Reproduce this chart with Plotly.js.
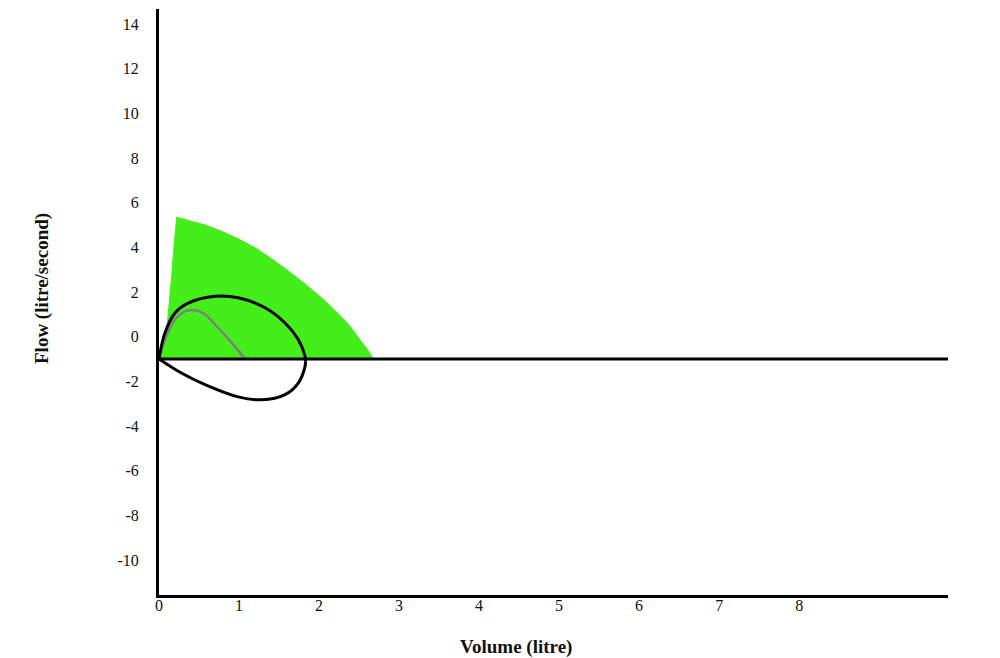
<!DOCTYPE html>
<html>
<head>
<meta charset="utf-8">
<script src="https://cdn.plot.ly/plotly-3.0.1.min.js"></script>
<style>html,body{margin:0;padding:0;background:#fff;}#chart{width:1000px;height:658px;}</style>
</head>
<body>
<div id="chart"></div>
<script>
// Predicted (green) flow-volume envelope
const predVolume = [0, 0.054, 0.096, 0.116, 0.1375, 0.16, 0.179, 0.2, 0.221, 0.366, 0.575, 0.78, 0.99, 1.2, 1.41, 1.62, 1.825, 2.03, 2.2, 2.37, 2.45, 2.53, 2.62, 2.68, 0];
const predFlow   = [-1, -0.51, 0.24, 0.99, 1.74, 2.78, 3.68, 4.57, 5.35, 5.2, 5.0, 4.72, 4.38, 3.98, 3.48, 2.93, 2.36, 1.74, 1.17, 0.54, 0.17, -0.21, -0.66, -1, -1];

// Measured loop (black): expiratory (upper) and inspiratory (lower) limbs
const loopUpVolume = [0, 0.075, 0.2, 0.37, 0.7, 0.99, 1.325, 1.575, 1.74, 1.825, 1.83];
const loopUpFlow   = [-1, 0.17, 1.06, 1.51, 1.81, 1.74, 1.29, 0.61, -0.13, -0.88, -1.1];
const loopDownVolume = [1.83, 1.825, 1.74, 1.575, 1.28, 0.99, 0.575, 0.28, 0];
const loopDownFlow   = [-1.1, -1.33, -2.08, -2.6, -2.83, -2.7, -2.15, -1.63, -1];

// Grey curve
const greyVolume = [0, 0.075, 0.2, 0.325, 0.45, 0.575, 0.74, 0.91, 1.075];
const greyFlow   = [-1, -0.13, 0.76, 1.13, 1.18, 0.99, 0.39, -0.28, -1];

// Axis ticks
const xTicks = [0, 1, 2, 3, 4, 5, 6, 7, 8];
const yTicks = [-10, -8, -6, -4, -2, 0, 2, 4, 6, 8, 10, 12, 14];
const baselineFlow = -1;

const tickFont = {family: 'Liberation Serif, serif', size: 16, color: '#111'};
const titleFont = {family: 'Liberation Serif, serif', size: 19, color: '#111', weight: 'bold'};

const traces = [
  {x: predVolume, y: predFlow, type: 'scatter', mode: 'lines', fill: 'toself',
   fillcolor: '#43ee1a', line: {color: '#43ee1a', width: 1},
   hoverinfo: 'skip', showlegend: false},
  {x: greyVolume, y: greyFlow, type: 'scatter', mode: 'lines',
   line: {color: '#808080', width: 2.5, shape: 'spline'}, showlegend: false},
  {x: loopUpVolume, y: loopUpFlow, type: 'scatter', mode: 'lines',
   line: {color: '#000', width: 3, shape: 'spline'}, showlegend: false},
  {x: loopDownVolume, y: loopDownFlow, type: 'scatter', mode: 'lines',
   line: {color: '#000', width: 3, shape: 'spline'}, showlegend: false}
];

const layout = {
  width: 1000, height: 658,
  margin: {l: 159, r: 52, t: 9, b: 63},
  paper_bgcolor: '#fff', plot_bgcolor: '#fff',
  showlegend: false,
  xaxis: {range: [0, 9.86], tickvals: xTicks, ticktext: xTicks.map(String), showgrid: false, zeroline: false,
          showline: true, linecolor: '#000', linewidth: 3, ticks: 'outside', ticklen: 0.1, tickcolor: 'rgba(0,0,0,0)',
          tickfont: tickFont, ticklabelstandoff: -6},
  yaxis: {range: [-11.57, 14.67], tickvals: yTicks, ticktext: yTicks.map(String), showgrid: false, zeroline: false,
          showline: true, linecolor: '#000', linewidth: 3, ticks: '', tickfont: tickFont, ticklabelstandoff: 14},
  shapes: [
    {type: 'line', xref: 'paper', yref: 'y', x0: 0, x1: 1, y0: baselineFlow, y1: baselineFlow,
     line: {color: '#000', width: 3}, layer: 'above'}
  ],
  annotations: [
    {text: 'Volume (litre)', xref: 'paper', yref: 'paper', x: (516 - 159) / 789, y: -(647 - 595) / 586,
     xanchor: 'center', yanchor: 'middle', showarrow: false, font: titleFont},
    {text: 'Flow (litre/second)', xref: 'paper', yref: 'paper', x: -(159 - 42) / 789, y: (595 - 289) / 586,
     xanchor: 'center', yanchor: 'middle', textangle: -90, showarrow: false, font: titleFont}
  ]
};

Plotly.newPlot('chart', traces, layout, {displayModeBar: false, staticPlot: true});
</script>
</body>
</html>
